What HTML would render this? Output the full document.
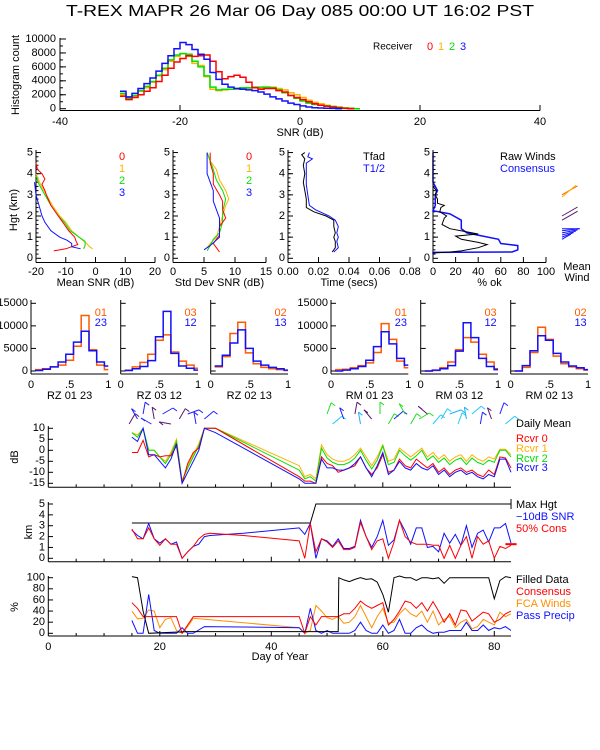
<!DOCTYPE html>
<html><head><meta charset="utf-8">
<style>
html,body{margin:0;padding:0;background:#fff;}
svg{display:block;font-family:"Liberation Sans",sans-serif;}
</style></head>
<body>
<svg id="chart" xmlns="http://www.w3.org/2000/svg" width="600" height="750" viewBox="0 0 600 750">
<rect x="0" y="0" width="600" height="750" fill="#fff"/>
</svg>
<script>
// ---------- DATA ----------
// top histogram (1 dB bins, starting at -30 dB)
const histStart = -30;
const histR0 = [1800,1300,1600,2000,2500,3000,3900,4800,5800,6700,7200,7600,7500,7600,7700,6800,5300,4300,4600,4800,4500,3800,3000,2800,2900,2900,2600,2400,1900,1600,1300,1000,700,500,350,250,150,50,0];
const histR1 = [2000,1400,1800,2500,3000,3800,4700,5600,6800,7500,7900,7500,6500,6200,4600,2800,2600,2700,2800,2800,2900,2900,3000,3000,3100,3100,2900,2700,2300,2000,1600,1200,900,700,500,350,250,150,80,0];
const histR2 = [2200,1500,1900,2600,3200,3900,4800,5800,7000,7700,7900,7800,6800,6000,4700,3100,2700,2800,2800,2900,3000,3000,3100,3100,3100,3000,2700,2300,1900,1500,1100,800,600,500,400,300,200,100,50,0];
const histR3 = [2500,1700,2200,2900,3600,4400,5400,6500,7600,8600,9500,9200,8500,7800,7100,5200,4200,3500,3100,2900,2800,2700,2600,2400,2100,1700,1400,1100,800,600,400,250,150,100,60,40,0];
const histXTicks = [-40,-20,0,20,40];
const histYTicks = [0,2000,4000,6000,8000,10000];

// profiles (height km)
const snrH0 = [0.35,0.45,0.55,0.65,0.8,1.0,1.3,1.6,2.0,2.5,3.0,3.2,3.5,3.75,4.0,4.2,4.5];
const snrV0 = [-14,-10,-8,-6,-6.5,-7,-9,-10.5,-12.5,-15,-16.5,-17,-18,-17,-18,-19.5,-20];
const snrH1 = [0.45,0.55,0.7,1.0,1.3,1.7,2.0,2.5,3.0,3.5,4.0];
const snrV1 = [-1,-2,-3,-5.5,-8,-10,-12,-14.5,-16.5,-18.5,-20];
const snrH2 = [0.45,0.6,0.8,1.0,1.3,1.7,2.0,2.5,3.0,3.5,3.9];
const snrV2 = [-4,-3.5,-3.5,-5.5,-8.5,-10.5,-12.5,-15,-17,-19,-20];
const snrH3 = [0.45,0.55,0.7,0.85,1.0,1.3,1.7,2.0,2.5,3.0,3.6];
const snrV3 = [-5,-8,-8,-9.5,-12,-15,-17,-18,-19,-20,-20.5];

const sdH0 = [0.3,0.5,0.7,0.9,1.1,1.5,1.9,2.3,2.7,3.0,3.5,4.0,4.5,5.0];
const sdV0 = [7.5,7,6.5,7,7.5,7.5,8.5,8,8,7.5,6.5,6.5,6,6];
const sdH1 = [0.5,0.7,1.0,1.5,2.0,2.5,2.8,3.2,3.7,4.2,4.6,5.0];
const sdV1 = [5.5,6,7,7.5,8,8.5,9,8.5,7.5,7,6,5.5];
const sdH2 = [0.35,0.6,0.9,1.2,1.7,2.2,2.8,3.2,3.7,4.2,4.6,5.0];
const sdV2 = [5.5,6,6.5,7.5,8,8,8.5,8,7,6.5,6,5.5];
const sdH3 = [0.4,0.6,1.0,1.5,1.9,2.3,2.7,3.2,3.6,4.0,4.5,5.0];
const sdV3 = [5,6,7.5,7.5,7.5,7,6.5,6.5,6,5.5,5.5,5.5];

const tfadH = [0.3,0.5,0.8,1.0,1.2,1.5,1.8,2.0,2.2,2.4,2.8,3.2,3.6,4.0,4.4,4.7,4.9,5.0];
const tfadV = [0.029,0.031,0.031,0.030,0.031,0.030,0.030,0.025,0.017,0.012,0.012,0.011,0.010,0.011,0.010,0.011,0.009,0.011];
const thalfH = [0.3,0.5,0.8,1.0,1.2,1.5,1.8,2.0,2.3,2.5,3.0,3.5,4.0,4.5,4.7,4.8,5.0];
const thalfV = [0.030,0.033,0.032,0.033,0.032,0.033,0.031,0.027,0.018,0.014,0.013,0.012,0.012,0.012,0.016,0.013,0.014];

const rawH = [0.25,0.3,0.35,0.5,0.65,0.75,0.9,1.05,1.15,1.25,1.4,1.6,1.9,2.0,2.2,2.4,2.5,2.6,2.8,3.0,3.2,3.4,5.0];
const rawV = [0,15,25,40,48,40,25,20,40,30,15,8,10,12,6,7,10,4,4,2,3,0,0];
const consH = [0.2,0.28,0.3,0.4,0.6,0.7,0.9,1.2,1.4,1.8,2.1,2.25,2.5,3.0,3.2,3.4,3.6,5.0];
const consV = [0,0,70,75,75,60,58,30,25,25,15,0,2,2,4,2,0,0];

// correlation histograms (bins centred 0.1..1.0)
const corrBins = [0.1,0.2,0.3,0.4,0.5,0.6,0.7,0.8,0.9,1.0];
const corrTitles = ["RZ  01 23","RZ  03 12","RZ  02 13","RM  01 23","RM  03 12","RM  02 13"];
const corrLabA = ["01","03","02","01","03","02"];
const corrLabB = ["23","12","13","23","12","13"];
const corrA = [
 [300,500,900,1300,2400,5500,12300,4700,1300,300],
 [200,900,1900,3700,6800,8000,4200,2200,1300,600],
 [900,3200,8300,10800,4000,1600,800,500,300,100],
 [300,400,700,1200,1800,4100,10500,7000,2200,700],
 [0,100,700,2000,4700,7400,6400,3700,2000,500],
 [0,800,4100,9700,7000,3300,1600,900,500,200]];
const corrB = [
 [100,400,900,2000,3700,6400,8800,4500,2000,1100],
 [100,500,1000,2300,7600,13200,3900,1100,600,200],
 [1100,3500,6200,9100,5000,2200,1300,800,500,200],
 [0,200,500,1000,2400,5400,8700,6000,2800,1300],
 [0,200,500,1200,4400,10700,7400,2800,1000,300],
 [0,1200,4500,7800,6800,3900,2000,1100,700,300]];
const corrYTicks = [0,5000,10000,15000];

// daily time series
const dbDays = [15,16,17,18,19,20,21,22,23,24,25,26,27,28,30,45,46,47,48,49,50,51,52,53,54,55,56,57,58,59,60,61,62,63,64,65,66,67,68,69,70,71,72,73,74,75,76,77,78,79,80,81,82,83];
const rcvr0 = [-1,-1,4.5,-3,-2,-3,-2.5,-2.5,2,-15,-6,-1,1,10,10,-12,-14,-14,-15,-3,-6,-7,-10,-9,-8,-7,-3,-8,-11,-8,-2,-10,-9,-4,-7,-8,-4,-6,-8,-6,-10,-8,-11,-9,-8,-10,-9,-11,-12,-9,-11,-3,-3.5,-8];
const rcvr1 = [8,7,10,0,0,-3,-5,-1,5,-14,-7,-2,3,10,10,-7,-12,-11,-13,2.5,-2,-4,-5,-5,-4,-2,1,-3,-7,-3,2.5,-5,-4,1,-1,-3,-1,1,-3,-1,-4,-2,-5,-3,-2,-5,-2,-4,-5,-3,-4,0.5,0.5,-2];
const rcvr2 = [8,6,10,0,0,-3,-6,-2,4,-14,-8,-3,2,10,10,-9,-13,-12,-14,1,-3.5,-5.5,-6.5,-6.5,-5.5,-3.5,0,-4.5,-8.5,-4.5,2,-6.5,-5.5,0,-2.5,-4.5,-2.5,0,-4.5,-2.5,-5.5,-3.5,-6.5,-4.5,-3.5,-6.5,-3.5,-5.5,-6.5,-4.5,-5.5,0,0,-3];
const rcvr3 = [6,4,10,-2,-2,-5,-8,-4,3,-15,-10,-5,0,10,8,-13,-15,-15,-15,-4,-8,-8,-9,-9,-8,-6,-3,-8,-12,-7,-1,-11,-9,-5,-8,-9,-6,-8,-9,-7,-11,-9,-12,-10,-9,-11,-10,-12,-13,-11,-12,-4,-4,-10];
const dbTicks = [-15,-10,-5,0,5,10];

const kmDays = [15,16,17,18,19,20,21,22,23,24,25,26,27,28,29,35,45,46,47,48,49,50,51,52,53,54,55,56,57,58,59,60,61,62,63,64,65,66,67,68,69,70,71,72,73,74,75,76,77,78,79,80,81,82,83];
const snrHgt = [2.6,2.1,1.8,3.2,1.8,1.4,1.8,1.3,1.5,0,0.6,1.1,1.3,2.0,2.1,2.3,2.8,2.2,3.2,0,1.8,1.6,1.1,1.8,0.9,0.9,1.1,3.5,2.0,1.0,2.0,3.5,1.2,1.7,3.5,2.5,1.3,2.8,2.8,1.0,1.1,0.6,2.3,1.4,2.2,1.2,3.0,1.0,2.3,2.6,1.5,2.8,2.8,3.2,1.4];
const consHgt = [2.7,1.8,1.8,2.8,1.8,1.2,1.8,1.3,1.3,0,0.6,1.1,1.8,2.2,2.3,2.1,1.6,0,3.2,0.6,1.8,1.5,1.0,1.6,0.8,0.8,1.0,3.3,2.0,0.8,1.6,1.8,0,1.5,3.5,2.0,1.5,1.3,1.3,1.3,1.2,1.2,0,1.2,0,1.2,2.0,0,2.0,1.3,1.6,0,1.1,0.9,1.2];
const maxDays = [15,47,48,83];
const maxHgt = [3.25,3.25,5,5];
const kmTicks = [0,1,2,3,4,5];

const filDays = [15,16,17,18,25,45,52,52.1,53,54,55,56,57,58,59,60,61,62,63,64,65,66,67,68,69,70,71,72,73,74,75,76,77,78,79,80,81,82,83];
const filled = [102,100,40,0,3,3,3,100,96,93,97,100,97,98,92,70,38,100,103,100,100,95,100,100,98,100,90,100,100,100,100,100,100,100,100,62,95,102,100];
const pcDays = [15,16,17,18,23,24,26,45,46,47,48,49,52,53,54,55,56,57,58,59,60,61,62,63,64,65,66,67,68,69,70,71,72,73,74,75,76,77,78,79,80,81,82,83];
const consPct = [55,45,30,30,30,0,30,30,0,30,15,30,30,35,35,45,58,50,45,50,55,15,25,40,58,55,45,55,40,57,40,20,35,15,42,40,22,30,38,35,20,25,35,40];
const fcaDays = [15,16,17,18,19,20,21,22,23,24,25,26,45,46,47,48,49,50,51,52,53,54,55,56,57,58,59,60,61,62,63,64,65,66,67,68,69,70,71,72,73,74,75,76,77,78,79,80,81,82,83];
const fcaPct = [40,26,27,42,40,10,25,28,5,0,12,27,10,0,5,50,40,28,25,30,18,20,30,50,30,10,30,45,18,20,35,45,35,30,40,20,40,15,25,30,10,20,25,8,12,25,20,15,38,30,35];
const ppDays = [15,16,17,18,19,20,22,23,24,25,26,28,45,46,47,48,49,50,51,52,53,54,55,56,57,58,59,60,61,62,63,64,65,66,67,68,69,70,71,72,73,74,75,76,77,78,79,80,81,82,83];
const ppPct = [23,0,0,70,5,0,0,0,10,0,0,12,10,0,45,5,0,5,0,0,0,0,5,20,5,0,0,15,0,5,25,0,0,10,15,5,0,2,2,5,5,5,20,5,5,15,5,10,8,12,5];
const pctTicks = [0,20,40,60,80,100];
const dayTicks = [0,20,40,60,80];

// wind barbs above dB panel: day, height offset (px above 10 dB line), angle (deg), colour index
const barbDays = [14.5,16,17,18.5,19,20.5,22,23.5,25,26.5,28,50,51,53,55,56,58,59.5,61,62,64,65,66.5,68,69,70.5,72,73.5,75,76,77.5,79.5,81,82];
const barbAng = [60,120,80,150,100,30,170,60,20,100,40,70,40,110,80,100,130,90,60,40,120,60,30,140,50,60,20,70,100,40,80,110,70,40];
const barbCol = [3,4,4,4,3,4,3,3,4,4,4,2,1,4,3,0,3,2,2,4,2,2,2,3,1,1,0,1,0,1,4,3,4,1];
const barbPal = ["#1ab0ff","#20c8ff","#22dd22","#5a1a70","#2020ff"];

// ---------- DRAW ----------
const svg = document.getElementById('chart');
const NS = 'http://www.w3.org/2000/svg';
function mk(tag, attrs, name) {
  const el = document.createElementNS(NS, tag);
  for (const k in attrs) el.setAttribute(k, attrs[k]);
  
  
  svg.appendChild(el);
  return el;
}
function txt(x, y, s, name, opt) {
  opt = opt || {};
  const el = mk('text', {x:x, y:y, 'font-size': opt.size || 11, fill: opt.fill || '#000',
    'text-anchor': opt.anchor || 'start', 'dominant-baseline':'middle'}, name);
  if (opt.rot) el.setAttribute('transform', 'rotate(-90 ' + x + ' ' + y + ')');
  if (opt.len) { el.setAttribute('textLength', opt.len); el.setAttribute('lengthAdjust','spacingAndGlyphs'); }
  el.textContent = s;
  return el;
}
function ln(x1,y1,x2,y2,name,col,w) {
  return mk('line',{x1:x1,y1:y1,x2:x2,y2:y2,stroke:col||'#000','stroke-width':w||1},name);
}
function poly(xs, ys, fx, fy, col, name, w) {
  const pts = xs.map((v,i)=> fx(v).toFixed(1)+','+fy(ys[i]).toFixed(1)).join(' ');
  return mk('polyline',{points:pts, fill:'none', stroke:col, 'stroke-width': w||1}, name);
}
function stepPath(edgeStart, width, vals, fx, fy, col, name, clipMax) {
  let d = '';
  vals.forEach((v,i)=>{
    let a = edgeStart + i*width, b = a + width;
    if (clipMax !== undefined && b > clipMax) b = clipMax;
    const y = fy(v).toFixed(1);
    d += (i===0 ? 'M'+fx(a).toFixed(1)+','+y : 'V'+y) + 'H'+fx(b).toFixed(1);
  });
  return mk('path',{d:d, fill:'none', stroke:col, 'stroke-width':1.5}, name);
}

// title
txt(300, 12, 'T-REX  MAPR 26 Mar 06 Day 085  00:00 UT  16:02  PST', 'main-title', {size:16, anchor:'middle', len:468});

// ----- top histogram -----
const hX = v => 300 + v*6;
const hY = c => 108.7 - c*0.00697;
ln(60, 38, 60, 110.5, 'histogram-y-axis');
ln(60, 110.5, 540, 110.5, 'histogram-x-axis');
histYTicks.forEach(t=>{ ln(60, hY(t), 66, hY(t), 'histogram-y-tick'); txt(56, hY(t), String(t), 'histogram-y-tick-label', {anchor:'end'}); });
for (let t=1000; t<=10000; t+=1000) ln(60, hY(t), 63, hY(t), 'histogram-y-minor-tick');
histXTicks.forEach(t=>{ ln(hX(t), 110.5, hX(t), 105, 'histogram-x-tick'); txt(hX(t), 122, String(t), 'histogram-x-tick-label', {anchor:'middle'}); });
txt(300, 133, 'SNR (dB)', 'histogram-x-title', {anchor:'middle'});
txt(16, 75, 'Histogram count', 'histogram-y-title', {anchor:'middle', rot:true});
stepPath(histStart, 1, histR1, hX, hY, '#ffb000', 'histogram-receiver-1');
stepPath(histStart, 1, histR2, hX, hY, '#00e000', 'histogram-receiver-2');
stepPath(histStart, 1, histR0, hX, hY, '#ff0000', 'histogram-receiver-0');
stepPath(histStart, 1, histR3, hX, hY, '#1010ff', 'histogram-receiver-3');
txt(373, 47, 'Receiver', 'histogram-legend-title', {size:10});
txt(427, 47, '0', 'legend-receiver-0', {fill:'#ff0000'});
txt(438, 47, '1', 'legend-receiver-1', {fill:'#ffb000'});
txt(449, 47, '2', 'legend-receiver-2', {fill:'#00e000'});
txt(460, 47, '3', 'legend-receiver-3', {fill:'#1010ff'});

// ----- profile panels -----
const pY = h => 258.3 - h*21.15;
function profileAxes(x0, x1, lo, hi, ticks, fmt, xtitle, name) {
  const fx = v => x0 + (v-lo)/(hi-lo)*(x1-x0);
  ln(x0, 150, x0, 262.5, name+'-y-axis');
  ln(x0, 262.5, x1, 262.5, name+'-x-axis');
  for (let h=0; h<=5; h++) { ln(x0, pY(h), x0+5, pY(h), name+'-y-tick'); txt(x0-3, pY(h), String(h), name+'-y-tick-label', {anchor:'end'}); }
  for (let h=0.2; h<5; h+=0.2) ln(x0, pY(h), x0+2.5, pY(h), name+'-y-minor-tick');
  ticks.forEach(t=>{ ln(fx(t), 262.5, fx(t), 257, name+'-x-tick'); txt(fx(t), 272, fmt(t), name+'-x-tick-label', {anchor:'middle'}); });
  txt((x0+x1)/2, 283, xtitle, name+'-x-title', {anchor:'middle'});
  return fx;
}
const f1 = profileAxes(36, 155, -20, 20, [-20,-10,0,10,20], String, 'Mean SNR (dB)', 'mean-snr-panel');
txt(14, 210, 'Hgt (km)', 'height-axis-title', {anchor:'middle', rot:true});
poly(snrV1, snrH1, f1, pY, '#ffb000', 'mean-snr-receiver-1');
poly(snrV2, snrH2, f1, pY, '#00e000', 'mean-snr-receiver-2');
poly(snrV0, snrH0, f1, pY, '#ff0000', 'mean-snr-receiver-0');
poly(snrV3, snrH3, f1, pY, '#1010ff', 'mean-snr-receiver-3');
[['0','#ff0000'],['1','#ffb000'],['2','#00e000'],['3','#1010ff']].forEach((p,i)=>{
  txt(122, 157+i*12, p[0], 'mean-snr-legend-'+p[0], {fill:p[1], anchor:'middle'});
  txt(249, 157+i*12, p[0], 'std-snr-legend-'+p[0], {fill:p[1], anchor:'middle'});
});
const f2 = profileAxes(173, 266, 0, 15, [0,5,10,15], String, 'Std Dev SNR (dB)', 'std-snr-panel');
poly(sdV1, sdH1, f2, pY, '#ffb000', 'std-snr-receiver-1');
poly(sdV2, sdH2, f2, pY, '#00e000', 'std-snr-receiver-2');
poly(sdV0, sdH0, f2, pY, '#ff0000', 'std-snr-receiver-0');
poly(sdV3, sdH3, f2, pY, '#1010ff', 'std-snr-receiver-3');
const f3 = profileAxes(288, 410, 0, 0.08, [0,0.02,0.04,0.06,0.08], t=>t.toFixed(2), 'Time (secs)', 'time-panel');
poly(thalfV, thalfH, f3, pY, '#1010ff', 'time-t-half');
poly(tfadV, tfadH, f3, pY, '#000', 'time-tfad');
txt(363, 157, 'Tfad', 'legend-tfad');
txt(363, 169, 'T1/2', 'legend-t-half', {fill:'#1010ff'});
const f4 = profileAxes(433, 546, 0, 100, [0,20,40,60,80,100], String, '% ok', 'percent-ok-panel');
poly(consV, consH, f4, pY, '#1010ff', 'percent-ok-consensus', 1.5);
poly(rawV, rawH, f4, pY, '#000', 'percent-ok-raw-winds');
txt(500, 157, 'Raw Winds', 'legend-raw-winds');
txt(500, 169, 'Consensus', 'legend-consensus', {fill:'#1010ff'});
// mean wind barbs
const mwH = [3.0,2.9,2.0,1.8,1.4,1.3,1.2,1.1,1.0,0.9];
const mwAng = [30,40,30,30,0,20,30,40,50,60];
const mwCol = ['#ff6000','#ffb000','#5a1a70','#5a1a70','#1010ff','#1010ff','#1010ff','#1010ff','#1010ff','#1010ff'];
mwH.forEach((h,i)=>{
  const a = mwAng[i]*Math.PI/180, x = 562, y = pY(h);
  ln(x, y, x+18*Math.cos(a), y-18*Math.sin(a)+(i>3?12*Math.sin(a):0), 'mean-wind-barb', mwCol[i]);
});
txt(577, 267, 'Mean', 'mean-wind-label-1', {anchor:'middle'});
txt(577, 278, 'Wind', 'mean-wind-label-2', {anchor:'middle'});

// ----- correlation histograms -----
const cLefts = [31,120.7,210.7,331,420.7,510.7];
const cY = c => 371 - c*0.004513;
cLefts.forEach((L,p)=>{
  const fx = v => L + v*77.3;
  ln(L, 300, L, 374, 'corr-panel-y-axis');
  ln(L, 374, L+77.3, 374, 'corr-panel-x-axis');
  corrYTicks.forEach(t=>{ ln(L, cY(t), L+5, cY(t), 'corr-y-tick'); if (p===0||p===3) txt(L-3, cY(t), String(t), 'corr-y-tick-label', {anchor:'end'}); });
  [0,0.5,1].forEach(t=>txt(fx(t), 385, t===0.5?'.5':String(t), 'corr-x-tick-label', {anchor:'middle'}));
  txt(L+38.6, 396, corrTitles[p], 'corr-panel-title', {anchor:'middle'});
  stepPath(corrBins[0]-0.05, 0.1, corrA[p], fx, cY, '#ff5a00', 'corr-hist-'+corrLabA[p], 1);
  stepPath(corrBins[0]-0.05, 0.1, corrB[p], fx, cY, '#1010ff', 'corr-hist-'+corrLabB[p], 1);
  txt(L+76, 313, corrLabA[p], 'corr-legend-a', {anchor:'end', fill:'#ff5a00'});
  txt(L+76, 323, corrLabB[p], 'corr-legend-b', {anchor:'end', fill:'#1010ff'});
});

// ----- time series -----
const XD = d => 48.3 + d*5.575;
const Ydb = v => 428.3 + (10-v)*2.2;
const Ykm = v => 558.3 - v*10.86;
const Yp = v => 633.3 - v*0.556;
function tsAxes(top, bottom, fy, ticks, name) {
  ln(48.3, top, 48.3, bottom, name+'-y-axis');
  ln(48.3, bottom, XD(83), bottom, name+'-x-axis');
  ticks.forEach(t=>{ ln(48.3, fy(t), 53, fy(t), name+'-y-tick'); txt(45, fy(t), String(t), name+'-y-tick-label', {anchor:'end'}); });
  for (let d=5; d<=80; d+=5) ln(XD(d), bottom, XD(d), bottom-(d%20===0?5:3), name+'-x-tick');
}
tsAxes(426, 487.3, Ydb, dbTicks, 'snr-daily-panel');
txt(15, 457, 'dB', 'snr-daily-y-title', {anchor:'middle', rot:true});
barbDays.forEach((d,i)=>{
  const a = barbAng[i]*Math.PI/180, x = XD(d), y = 424 - (i%3)*5;
  ln(x, y, x+12*Math.cos(a), y-12*Math.sin(a), 'wind-barb', barbPal[barbCol[i]]);
  ln(x+12*Math.cos(a), y-12*Math.sin(a), x+12*Math.cos(a)+4, y-12*Math.sin(a)+3, 'wind-barb-flag', barbPal[barbCol[i]]);
});
poly(dbDays, rcvr1, XD, Ydb, '#ffb000', 'daily-rcvr-1');
poly(dbDays, rcvr2, XD, Ydb, '#00e000', 'daily-rcvr-2');
poly(dbDays, rcvr0, XD, Ydb, '#ff0000', 'daily-rcvr-0');
poly(dbDays, rcvr3, XD, Ydb, '#1010ff', 'daily-rcvr-3');
txt(516, 424, 'Daily Mean', 'legend-daily-mean');
txt(516, 439, 'Rcvr 0', 'legend-rcvr-0', {fill:'#ff0000'});
txt(516, 449, 'Rcvr 1', 'legend-rcvr-1', {fill:'#ffb000'});
txt(516, 459, 'Rcvr 2', 'legend-rcvr-2', {fill:'#00e000'});
txt(516, 468, 'Rcvr 3', 'legend-rcvr-3', {fill:'#1010ff'});

tsAxes(502, 561.7, Ykm, kmTicks, 'height-daily-panel');
txt(29, 532, 'km', 'height-daily-y-title', {anchor:'middle', rot:true});
poly(maxDays, maxHgt, XD, Ykm, '#000', 'max-height-line');
poly(kmDays, snrHgt, XD, Ykm, '#1010ff', 'snr-10db-height');
poly(kmDays, consHgt, XD, Ykm, '#ff0000', 'cons-50pct-height');
ln(XD(83), Ykm(5)-5, XD(83), Ykm(5)+5, 'max-height-marker');
ln(XD(82), Ykm(1.3), XD(84), Ykm(1.3), 'height-end-marker', '#ff0000', 2);
txt(516, 505, 'Max Hgt', 'legend-max-hgt');
txt(516, 517, '\u221210dB SNR', 'legend-10db-snr', {fill:'#1010ff'});
txt(516, 529, '50% Cons', 'legend-50-cons', {fill:'#ff0000'});

tsAxes(576, 636, Yp, pctTicks, 'percent-daily-panel');
txt(15, 607, '%', 'percent-daily-y-title', {anchor:'middle', rot:true});
poly(fcaDays, fcaPct, XD, Yp, '#ff9000', 'fca-winds-pct');
poly(ppDays, ppPct, XD, Yp, '#1010ff', 'pass-precip-pct');
poly(pcDays, consPct, XD, Yp, '#ff0000', 'consensus-pct');
poly(filDays, filled, XD, Yp, '#000', 'filled-data-pct');
dayTicks.forEach(t=>txt(XD(t), 647, String(t), 'day-tick-label', {anchor:'middle'}));
txt(280, 657, 'Day of Year', 'day-axis-title', {anchor:'middle'});
txt(516, 580, 'Filled Data', 'legend-filled-data');
txt(516, 592, 'Consensus', 'legend-consensus-pct', {fill:'#ff0000'});
txt(516, 604, 'FCA Winds', 'legend-fca-winds', {fill:'#ff9000'});
txt(516, 616, 'Pass Precip', 'legend-pass-precip', {fill:'#1010ff'});
</script>
</body></html>
